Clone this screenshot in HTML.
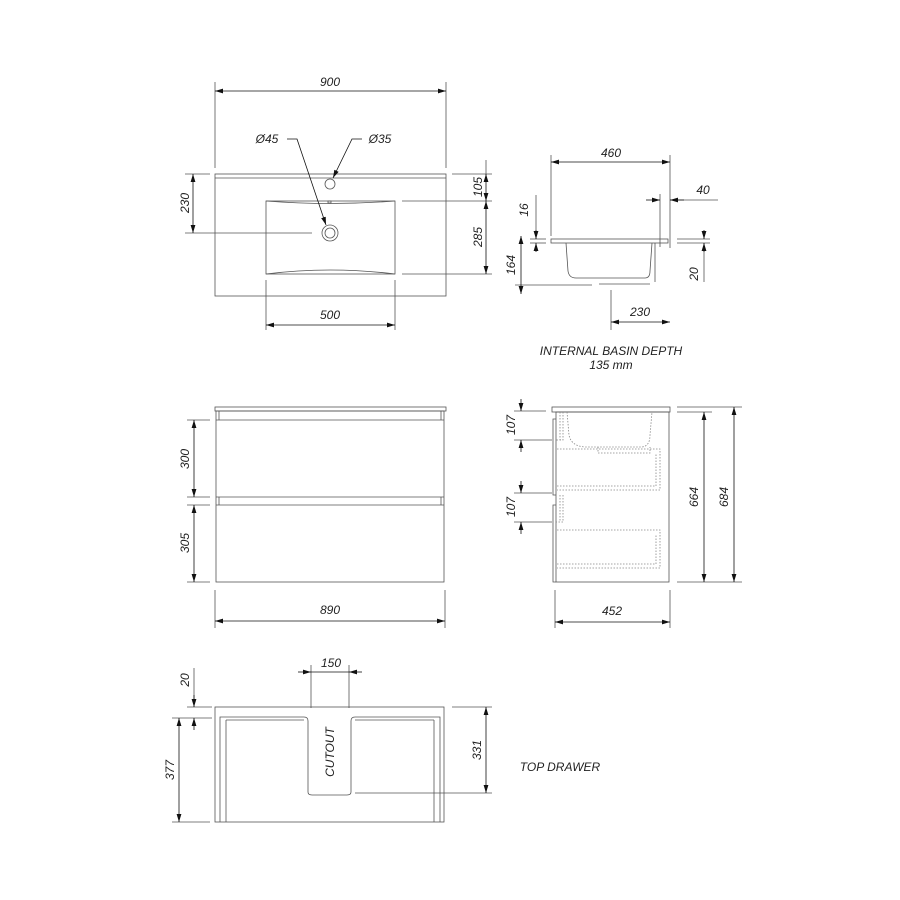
<!DOCTYPE html>
<html><head><meta charset="utf-8"><style>html,body{margin:0;padding:0;background:#fff}svg{display:block}text{font-family:"Liberation Sans",sans-serif;font-style:italic;font-size:12px;fill:#222}</style></head>
<body>
<svg width="900" height="900" viewBox="0 0 900 900" xmlns="http://www.w3.org/2000/svg">
<defs>
<marker id="a" viewBox="0 0 10 6" refX="10" refY="3" markerWidth="8" markerHeight="5" orient="auto-start-reverse" markerUnits="userSpaceOnUse"><path d="M0,0 L10,3 L0,6z" fill="#111"/></marker>
</defs>
<g stroke="#555" stroke-width="0.8" fill="none">
<!-- TOP VIEW -->
<rect x="215" y="174" width="231" height="122"/>
<line x1="215" y1="178" x2="446" y2="178"/>
<rect x="266" y="201" width="129" height="73"/>
<path d="M266,201 Q330,206 395,201 M266,274 Q330,266 395,274"/>
<circle cx="330" cy="233" r="8"/><circle cx="330" cy="233" r="5"/>
<circle cx="330" cy="184" r="5"/>
<rect x="328" y="201" width="3" height="2"/>
<!-- ext lines -->
<line x1="215" y1="82" x2="215" y2="168"/><line x1="446" y1="82" x2="446" y2="168"/>
<line x1="266" y1="280" x2="266" y2="330"/><line x1="395" y1="280" x2="395" y2="330"/>
<line x1="185" y1="174" x2="210" y2="174"/><line x1="185" y1="233" x2="312" y2="233"/>
<line x1="452" y1="174" x2="492" y2="174"/><line x1="402" y1="201" x2="492" y2="201"/><line x1="402" y1="274" x2="492" y2="274"/>
<line x1="486" y1="160" x2="486" y2="174"/>
</g>
<g stroke="#111" stroke-width="0.8" fill="none">
<line x1="215" y1="91" x2="446" y2="91" marker-start="url(#a)" marker-end="url(#a)"/>
<line x1="266" y1="325" x2="395" y2="325" marker-start="url(#a)" marker-end="url(#a)"/>
<line x1="193" y1="174" x2="193" y2="233" marker-start="url(#a)" marker-end="url(#a)"/>
<line x1="486" y1="174" x2="486" y2="201" marker-start="url(#a)" marker-end="url(#a)"/>
<line x1="486" y1="201" x2="486" y2="274" marker-start="url(#a)" marker-end="url(#a)"/>
<polyline points="287,139 297,139 326,225" marker-end="url(#a)"/>
<polyline points="362,139 352,139 333,178" marker-end="url(#a)"/>
</g>
<text x="330" y="86" text-anchor="middle">900</text>
<text x="330" y="319" text-anchor="middle">500</text>
<text x="267" y="143" text-anchor="middle">Ø45</text>
<text x="380" y="143" text-anchor="middle">Ø35</text>
<text transform="translate(189,203) rotate(-90)" text-anchor="middle">230</text>
<text transform="translate(482,187) rotate(-90)" text-anchor="middle">105</text>
<text transform="translate(482,237) rotate(-90)" text-anchor="middle">285</text>

<!-- SIDE BASIN -->
<g stroke="#555" stroke-width="0.8" fill="none">
<rect x="551" y="239" width="117" height="4"/>
<path d="M566,243 L568,271 Q569,278 576,278 L645,278 Q650,278 650,271 L652,243"/>
<line x1="599" y1="284" x2="650" y2="284"/><line x1="655" y1="243" x2="655" y2="282"/>
<line x1="551" y1="155" x2="551" y2="236"/><line x1="670" y1="155" x2="670" y2="248"/>
<line x1="660" y1="194" x2="660" y2="247"/>
<line x1="515" y1="285" x2="592" y2="285"/>
<line x1="530" y1="239" x2="546" y2="239"/><line x1="530" y1="243" x2="546" y2="243"/>
<line x1="536" y1="195" x2="536" y2="239"/>
<line x1="677" y1="239" x2="710" y2="239"/><line x1="677" y1="243" x2="710" y2="243"/>
<line x1="704" y1="243" x2="704" y2="282"/>
<line x1="611" y1="290" x2="611" y2="330"/>
<line x1="670" y1="200" x2="718" y2="200"/>
</g>
<g stroke="#111" stroke-width="0.8" fill="none">
<line x1="551" y1="162" x2="670" y2="162" marker-start="url(#a)" marker-end="url(#a)"/>
<line x1="521" y1="236" x2="521" y2="294" marker-start="url(#a)" marker-end="url(#a)"/>
<line x1="536" y1="230" x2="536" y2="239" marker-end="url(#a)"/>
<line x1="536" y1="252" x2="536" y2="243" marker-end="url(#a)"/>
<line x1="646" y1="200" x2="660" y2="200" marker-end="url(#a)"/>
<line x1="684" y1="200" x2="670" y2="200" marker-end="url(#a)"/>
<line x1="704" y1="230" x2="704" y2="239" marker-end="url(#a)"/>
<line x1="704" y1="252" x2="704" y2="243" marker-end="url(#a)"/>
<line x1="611" y1="322" x2="670" y2="322" marker-start="url(#a)" marker-end="url(#a)"/>
</g>
<text x="611" y="157" text-anchor="middle">460</text>
<text x="703" y="194" text-anchor="middle">40</text>
<text x="640" y="316" text-anchor="middle">230</text>
<text transform="translate(528,210) rotate(-90)" text-anchor="middle">16</text>
<text transform="translate(515,265) rotate(-90)" text-anchor="middle">164</text>
<text transform="translate(698,274) rotate(-90)" text-anchor="middle">20</text>
<text x="611" y="355" text-anchor="middle">INTERNAL BASIN DEPTH</text>
<text x="611" y="369" text-anchor="middle">135 mm</text>

<!-- FRONT VIEW -->
<g stroke="#555" stroke-width="0.8" fill="none">
<rect x="215" y="407" width="231" height="4"/>
<rect x="216" y="411" width="228" height="171"/>
<line x1="216" y1="420" x2="444" y2="420"/>
<line x1="216" y1="497" x2="444" y2="497"/><line x1="216" y1="505" x2="444" y2="505"/>
<line x1="219" y1="411" x2="219" y2="420"/><line x1="441" y1="411" x2="441" y2="420"/>
<line x1="219" y1="497" x2="219" y2="505"/><line x1="441" y1="497" x2="441" y2="505"/>
<line x1="187" y1="420" x2="210" y2="420"/><line x1="187" y1="497" x2="210" y2="497"/>
<line x1="187" y1="505" x2="210" y2="505"/><line x1="187" y1="582" x2="210" y2="582"/>
<line x1="215" y1="590" x2="215" y2="628"/><line x1="445" y1="590" x2="445" y2="628"/>
</g>
<g stroke="#111" stroke-width="0.8" fill="none">
<line x1="194" y1="420" x2="194" y2="497" marker-start="url(#a)" marker-end="url(#a)"/>
<line x1="194" y1="505" x2="194" y2="582" marker-start="url(#a)" marker-end="url(#a)"/>
<line x1="215" y1="621" x2="445" y2="621" marker-start="url(#a)" marker-end="url(#a)"/>
</g>
<text x="330" y="614" text-anchor="middle">890</text>
<text transform="translate(189,459) rotate(-90)" text-anchor="middle">300</text>
<text transform="translate(189,543) rotate(-90)" text-anchor="middle">305</text>

<!-- SIDE CABINET -->
<g stroke="#555" stroke-width="0.8" fill="none">
<rect x="552" y="407" width="118" height="5"/>
<rect x="556" y="412" width="113" height="170"/>
<path d="M556,419 L553,419 L553,495 L556,495 M556,505 L553,505 L553,582 L556,582"/>
<line x1="514" y1="411" x2="546" y2="411"/><line x1="514" y1="440" x2="552" y2="440"/>
<line x1="514" y1="493" x2="552" y2="493"/><line x1="514" y1="522" x2="552" y2="522"/>
<line x1="677" y1="407" x2="742" y2="407"/><line x1="677" y1="412" x2="712" y2="412"/>
<line x1="677" y1="582" x2="742" y2="582"/>
<line x1="555" y1="590" x2="555" y2="628"/><line x1="670" y1="590" x2="670" y2="628"/>
</g>
<g stroke="#888" stroke-width="0.8" fill="none" stroke-dasharray="1.5,1.5">
<path d="M560,412 L560,440 M563,412 L563,440 L556,440"/>
<path d="M567,412 L569,435 Q571,446 585,447 L642,447 Q650,446 650,435 L652,412"/>
<path d="M598,447 L598,453 L650,453 L650,447"/>
<path d="M557,449 L660,449 L660,490 L557,490 M557,486 L656,486 L656,453"/>
<path d="M560,495 L560,522 M563,495 L563,522 L556,522"/>
<path d="M557,530 L660,530 L660,568 L557,568 M557,564 L656,564 L656,534"/>
</g>
<g stroke="#111" stroke-width="0.8" fill="none">
<line x1="521" y1="399" x2="521" y2="411" marker-end="url(#a)"/>
<line x1="521" y1="452" x2="521" y2="440" marker-end="url(#a)"/>
<line x1="521" y1="481" x2="521" y2="493" marker-end="url(#a)"/>
<line x1="521" y1="534" x2="521" y2="522" marker-end="url(#a)"/>
<line x1="704" y1="412" x2="704" y2="582" marker-start="url(#a)" marker-end="url(#a)"/>
<line x1="734" y1="407" x2="734" y2="582" marker-start="url(#a)" marker-end="url(#a)"/>
<line x1="555" y1="622" x2="670" y2="622" marker-start="url(#a)" marker-end="url(#a)"/>
</g>
<text x="612" y="615" text-anchor="middle">452</text>
<text transform="translate(515,425) rotate(-90)" text-anchor="middle">107</text>
<text transform="translate(515,507) rotate(-90)" text-anchor="middle">107</text>
<text transform="translate(698,497) rotate(-90)" text-anchor="middle">664</text>
<text transform="translate(728,497) rotate(-90)" text-anchor="middle">684</text>

<!-- TOP DRAWER -->
<g stroke="#555" stroke-width="0.8" fill="none">
<rect x="215" y="707" width="229" height="115"/>
<path d="M220,822 L220,717 L304,717 Q308,717 308,721 L308,792 Q308,795 312,795 L347,795 Q351,795 351,792 L351,721 Q351,717 355,717 L440,717 L440,822"/>
<line x1="226" y1="720" x2="226" y2="822"/><line x1="434" y1="720" x2="434" y2="822"/>
<line x1="226" y1="720" x2="304" y2="720"/><line x1="355" y1="720" x2="434" y2="720"/>
<line x1="311" y1="665" x2="311" y2="708"/><line x1="349" y1="665" x2="349" y2="708"/>
<line x1="187" y1="707" x2="212" y2="707"/><line x1="172" y1="718" x2="212" y2="718"/>
<line x1="172" y1="822" x2="210" y2="822"/>
<line x1="452" y1="707" x2="492" y2="707"/><line x1="355" y1="793" x2="492" y2="793"/>
<line x1="194" y1="668" x2="194" y2="707"/>
</g>
<g stroke="#111" stroke-width="0.8" fill="none">
<line x1="298" y1="672" x2="311" y2="672" marker-end="url(#a)"/>
<line x1="362" y1="672" x2="349" y2="672" marker-end="url(#a)"/>
<line x1="311" y1="672" x2="349" y2="672"/>
<line x1="194" y1="695" x2="194" y2="707" marker-end="url(#a)"/>
<line x1="194" y1="730" x2="194" y2="718" marker-end="url(#a)"/>
<line x1="179" y1="718" x2="179" y2="822" marker-start="url(#a)" marker-end="url(#a)"/>
<line x1="486" y1="707" x2="486" y2="793" marker-start="url(#a)" marker-end="url(#a)"/>
</g>
<text x="331" y="667" text-anchor="middle">150</text>
<text transform="translate(189,680) rotate(-90)" text-anchor="middle">20</text>
<text transform="translate(174,770) rotate(-90)" text-anchor="middle">377</text>
<text transform="translate(481,750) rotate(-90)" text-anchor="middle">331</text>
<text transform="translate(334,752) rotate(-90)" text-anchor="middle">CUTOUT</text>
<text x="560" y="771" text-anchor="middle">TOP DRAWER</text>
</svg>
</body></html>
